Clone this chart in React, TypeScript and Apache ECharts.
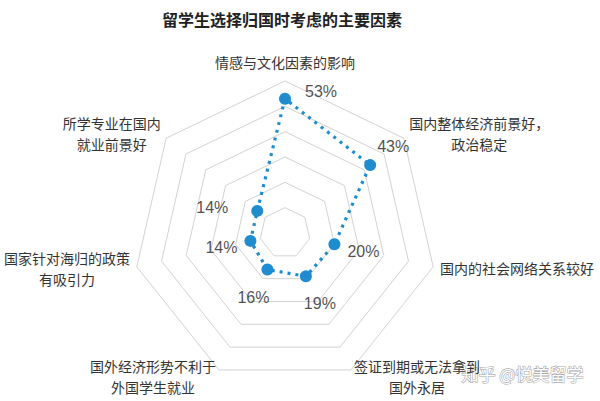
import React, { useEffect, useRef } from "react";
import * as echarts from "echarts";

const titleText = "留学生选择归国时考虑的主要因素";
const factorNames = [
  "情感与文化因素的影响",
  "国内整体经济前景好，\n政治稳定",
  "国内的社会网络关系较好",
  "签证到期或无法拿到\n国外永居",
  "国外经济形势不利于\n外国学生就业",
  "国家针对海归的政策\n有吸引力",
  "所学专业在国内\n就业前景好",
];
const shareValues = [53, 43, 20, 19, 16, 14, 14];
const axisMax = 60;
const watermark = "知乎 @悦美留学";

// label offsets (style only) relative to each data point
const labelOffsets: [number, number][] = [
  [36, -7],
  [23, -19],
  [29, 7],
  [14, 27],
  [-14, 28],
  [-29, 7],
  [-45, -3],
];

const CJK = "'Noto Sans CJK SC', 'Noto Sans', sans-serif";
const LATIN = "'Liberation Sans', Arial, sans-serif";
const BLUE = "#1f8ccf";

// ECharts radar runs counter-clockwise; reorder so the factors run clockwise
const clockwiseOrder = factorNames.map((_, i) => (i === 0 ? 0 : factorNames.length - i));

export default function App() {
  const ref = useRef<HTMLDivElement>(null);
  useEffect(() => {
    if (!ref.current) return;
    const chart = echarts.init(ref.current, null, { renderer: "svg" });
    const center = [285, 233];
    const radius = 152;
    chart.setOption({
      animation: false,
      backgroundColor: "#ffffff",
      textStyle: { fontFamily: CJK },
      title: {
        text: titleText,
        left: 157,
        top: 6,
        textStyle: { fontSize: 16, fontWeight: "bold", color: "#222", fontFamily: CJK },
      },
      radar: {
        shape: "polygon",
        center,
        radius,
        startAngle: 90,
        splitNumber: 6,
        indicator: clockwiseOrder.map((k) => ({ name: factorNames[k], max: axisMax, min: 0 })),
        nameGap: 7,
        axisName: {
          color: "#333",
          fontSize: 14,
          fontFamily: CJK,
          formatter: (name: string) => {
            const lines = name.split("\n");
            if (name === factorNames[0]) return `{t|${name}}`;
            return lines.map((l) => `{c|${l}}`).join("\n");
          },
          rich: {
            c: { align: "center", fontSize: 14, lineHeight: 21, color: "#333", fontFamily: CJK },
            t: { align: "center", fontSize: 14, lineHeight: 24, color: "#333", fontFamily: CJK },
          },
        },
        axisLine: { show: false },
        axisTick: { show: false },
        axisLabel: { show: false },
        splitArea: { show: false },
        splitLine: { lineStyle: { color: "#d2d2d2", width: 1 } },
      },
      polar: { center, radius },
      angleAxis: {
        type: "value",
        min: 0,
        max: factorNames.length,
        startAngle: 90,
        clockwise: true,
        show: false,
      },
      radiusAxis: { type: "value", min: 0, max: axisMax, show: false },
      graphic: [
        {
          type: "text",
          right: 16,
          top: 364,
          style: {
            text: watermark,
            fill: "#ffffff",
            stroke: "#a8a8a8",
            lineWidth: 1.2,
            font: `17px ${CJK}`,
          },
        },
      ],
      series: [
        {
          type: "radar",
          symbol: "circle",
          symbolSize: 12,
          lineStyle: { color: BLUE, width: 3.2, type: [3, 5] },
          itemStyle: { color: BLUE },
          areaStyle: { opacity: 0 },
          data: [{ value: clockwiseOrder.map((k) => shareValues[k]), name: "占比" }],
        },
        {
          type: "scatter",
          coordinateSystem: "polar",
          symbolSize: 0,
          silent: true,
          data: shareValues.map((v, i) => ({
            value: [v, i],
            label: { offset: labelOffsets[i] },
          })),
          label: {
            show: true,
            position: "inside",
            color: "#222",
            fontSize: 16,
            fontFamily: LATIN,
            formatter: (p: any) => `${p.value[0]}%`,
          },
        },
      ],
    });
    return () => chart.dispose();
  }, []);
  return (
    <div
      ref={ref}
      style={{ position: "fixed", left: 0, top: 0, width: 600, height: 401 }}
    />
  );
}
